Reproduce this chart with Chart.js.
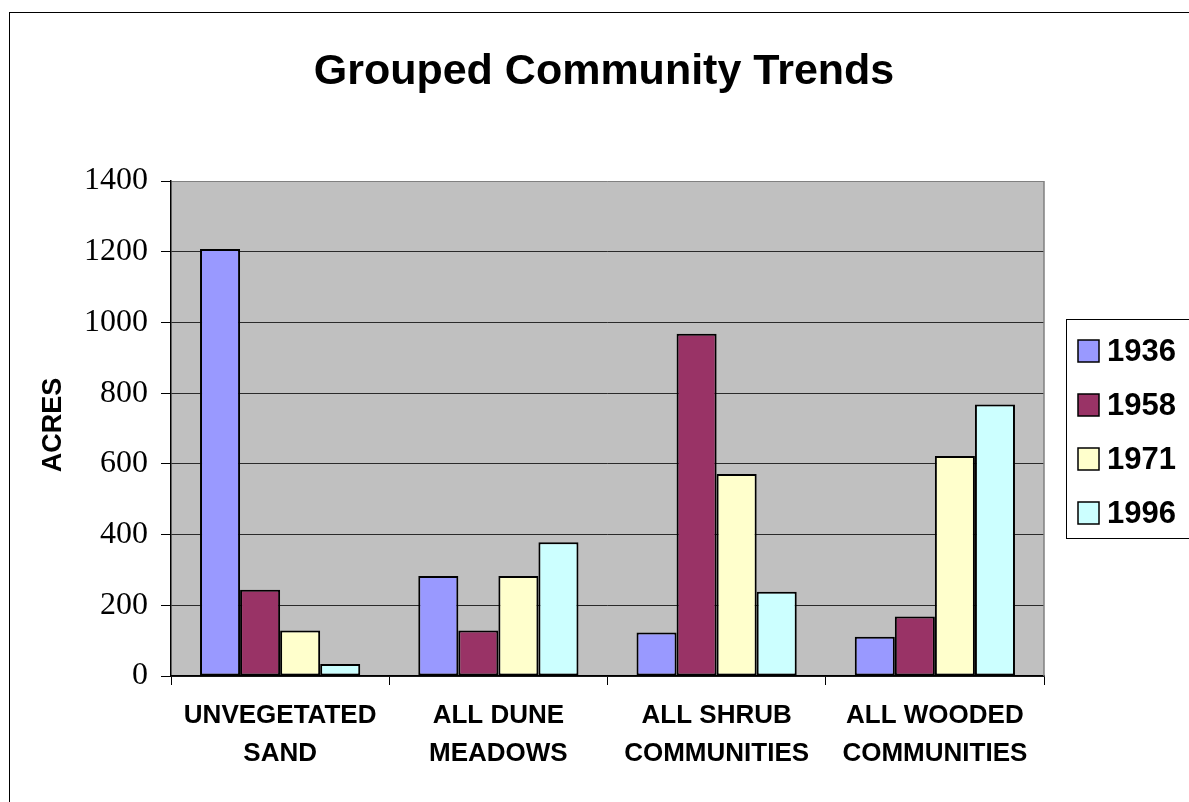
<!DOCTYPE html>
<html>
<head>
<meta charset="utf-8">
<title>Grouped Community Trends</title>
<script src="https://cdn.jsdelivr.net/npm/chart.js@4/dist/chart.umd.min.js"></script>
<style>
  html, body { margin: 0; padding: 0; background: #fff; }
  canvas { display: block; }
</style>
</head>
<body>
<canvas id="trendChart" width="1189" height="802"></canvas>
<script>
// chart data
const categories = [
    ['UNVEGETATED', 'SAND'],
    ['ALL DUNE', 'MEADOWS'],
    ['ALL SHRUB', 'COMMUNITIES'],
    ['ALL WOODED', 'COMMUNITIES']
];
const years = ['1936', '1958', '1971', '1996'];
const acres1936 = [1208, 283, 123, 111];
const acres1958 = [244, 129, 968, 168];
const acres1971 = [129, 283, 571, 622];
const acres1996 = [34, 378, 238, 768];
const yTicks = [0, 200, 400, 600, 800, 1000, 1200, 1400];

const colors = ['#9999FF', '#993366', '#FFFFCC', '#CCFFFF'];
const SANS = '"Liberation Sans", Arial, sans-serif';
const SERIF = '"Liberation Serif", "Times New Roman", serif';

// background, frame, title, axis title and legend
const decorPlugin = {
    id: 'decor',
    beforeDraw(chart) {
        const ctx = chart.ctx;
        const a = chart.chartArea;
        ctx.save();
        ctx.fillStyle = '#fff';
        ctx.fillRect(0, 0, chart.width, chart.height);
        ctx.strokeStyle = '#000';
        ctx.lineWidth = 1;
        ctx.strokeRect(9.5, 12.5, 1400, 1000);
        ctx.fillStyle = '#C0C0C0';
        ctx.fillRect(a.left, a.top, a.right - a.left, a.bottom - a.top);
        ctx.restore();
    },
    afterDraw(chart) {
        const ctx = chart.ctx;
        const a = chart.chartArea;
        ctx.save();
        // right edge of plot area
        ctx.strokeStyle = '#808080';
        ctx.lineWidth = 1.5;
        ctx.beginPath();
        ctx.moveTo(a.right, a.top);
        ctx.lineTo(a.right, a.bottom);
        ctx.stroke();

        // title
        ctx.fillStyle = '#000';
        ctx.font = 'bold 43px ' + SANS;
        ctx.textAlign = 'center';
        ctx.textBaseline = 'middle';
        ctx.fillText('Grouped Community Trends', 604, 72);

        // y axis title
        ctx.save();
        ctx.translate(54, 425);
        ctx.rotate(-Math.PI / 2);
        ctx.font = 'bold 27px ' + SANS;
        ctx.fillText('ACRES', 0, 0);
        ctx.restore();

        // legend
        ctx.strokeStyle = '#000';
        ctx.lineWidth = 1;
        ctx.strokeRect(1066.5, 319.5, 200, 219);
        ctx.font = 'bold 31px ' + SANS;
        ctx.textAlign = 'left';
        chart.data.datasets.forEach((ds, i) => {
            const cy = 351 + i * 54;
            ctx.fillStyle = ds.backgroundColor;
            ctx.fillRect(1078, cy - 11, 21, 22);
            ctx.lineWidth = 1.5;
            ctx.strokeRect(1078, cy - 11, 21, 22);
            ctx.fillStyle = '#000';
            ctx.fillText(ds.label, 1107, cy + 1);
        });
        ctx.restore();
    }
};

const seriesValues = [acres1936, acres1958, acres1971, acres1996];

new Chart(document.getElementById('trendChart'), {
    type: 'bar',
    data: {
        labels: categories,
        datasets: years.map((yr, i) => ({
            label: yr,
            data: seriesValues[i],
            backgroundColor: colors[i],
            borderColor: '#000',
            borderWidth: 2,
            borderSkipped: false,
            barPercentage: 1,
            categoryPercentage: 0.734
        }))
    },
    options: {
        responsive: false,
        animation: false,
        layout: {
            padding: { top: 181, right: 145, bottom: 0, left: 0 }
        },
        plugins: {
            legend: { display: false },
            title: { display: false },
            tooltip: { enabled: false }
        },
        scales: {
            x: {
                afterFit: scale => { scale.height = 126; },
                grid: {
                    drawOnChartArea: false,
                    drawTicks: true,
                    tickLength: 9,
                    tickColor: '#000',
                    offset: true
                },
                border: { color: '#000', width: 1.5 },
                ticks: {
                    color: '#000',
                    padding: 12,
                    maxRotation: 0,
                    font: { family: SANS, size: 26, weight: 'bold', lineHeight: 1.45 }
                }
            },
            y: {
                min: 0,
                max: 1400,
                afterFit: scale => { scale.width = 171; },
                afterBuildTicks: scale => {
                    scale.ticks = yTicks.map(v => ({ value: v }));
                },
                grid: {
                    color: c => (c.tick && c.tick.value === 1400) ? '#808080' : '#2a2a2a',
                    lineWidth: 1,
                    tickLength: 10,
                    tickColor: '#000'
                },
                border: { color: '#000', width: 1.5 },
                ticks: {
                    color: '#000',
                    padding: 13,
                    font: { family: SERIF, size: 32 },
                    callback: v => String(v)
                }
            }
        }
    },
    plugins: [decorPlugin]
});
</script>
</body>
</html>
